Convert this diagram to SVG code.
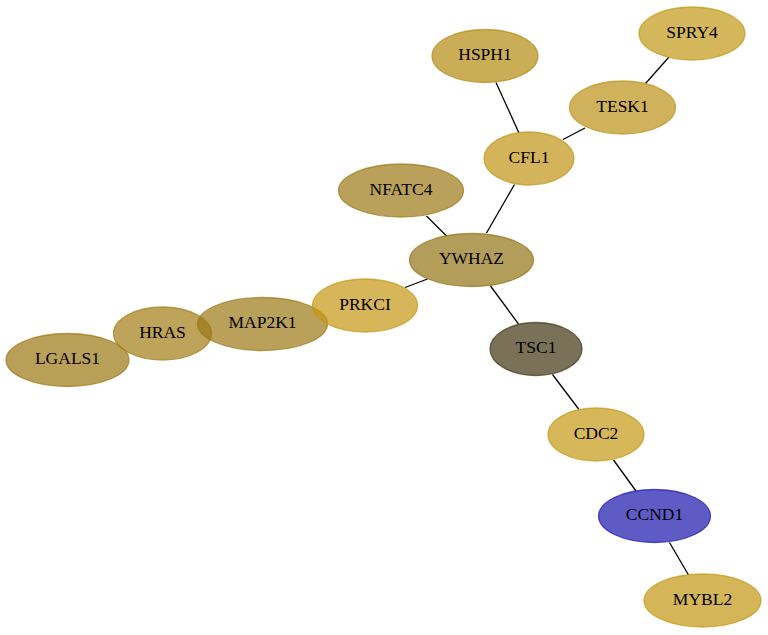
<svg xmlns="http://www.w3.org/2000/svg" width="768" height="635" viewBox="0 0 768 635">
<style>
.edge{stroke:#000;stroke-width:1.3;fill:none}
.node ellipse{fill-opacity:0.7;stroke-opacity:0.7;stroke-width:1.3}
.node text{font-family:"Liberation Serif","Times New Roman",serif;font-size:17.5px;text-anchor:middle;fill:#000}
</style>
<rect width="768" height="635" fill="#fff"/>
<g id="edges">
<line class="edge" x1="496" y1="82.5" x2="519" y2="133"/>
<line class="edge" x1="669" y1="57" x2="645.5" y2="83.5"/>
<line class="edge" x1="585" y1="128" x2="563" y2="139.5"/>
<line class="edge" x1="514.5" y1="184.5" x2="486.5" y2="233"/>
<line class="edge" x1="426.5" y1="216" x2="446.5" y2="236"/>
<line class="edge" x1="427.5" y1="279" x2="405" y2="287.5"/>
<line class="edge" x1="490.5" y1="286" x2="518.5" y2="324"/>
<line class="edge" x1="552.5" y1="374.5" x2="579" y2="409.5"/>
<line class="edge" x1="613.5" y1="460" x2="636" y2="491"/>
<line class="edge" x1="669.5" y1="542.5" x2="688.5" y2="575"/>
</g>
<g id="HSPH1" class="node"><ellipse cx="485" cy="56" rx="53" ry="26.5" fill="#b28a10" stroke="#b28a10"/><text x="485" y="60">HSPH1</text></g>
<g id="SPRY4" class="node"><ellipse cx="692" cy="33.5" rx="53" ry="26.5" fill="#c29716" stroke="#c29716"/><text x="692" y="37.5">SPRY4</text></g>
<g id="TESK1" class="node"><ellipse cx="622.5" cy="107.5" rx="53" ry="26.5" fill="#bb9116" stroke="#bb9116"/><text x="622.5" y="111.5">TESK1</text></g>
<g id="CFL1" class="node"><ellipse cx="529" cy="158.5" rx="45" ry="26.5" fill="#c09416" stroke="#c09416"/><text x="529" y="162.5">CFL1</text></g>
<g id="NFATC4" class="node"><ellipse cx="401" cy="190.5" rx="62.5" ry="26.5" fill="#9b7715" stroke="#9b7715"/><text x="401" y="194.5">NFATC4</text></g>
<g id="YWHAZ" class="node"><ellipse cx="471.5" cy="260" rx="62" ry="26.5" fill="#927316" stroke="#927316"/><text x="471.5" y="264">YWHAZ</text></g>
<g id="LGALS1" class="node"><ellipse cx="67.5" cy="360" rx="61.5" ry="26.5" fill="#9b7713" stroke="#9b7713"/><text x="67.5" y="364">LGALS1</text></g>
<g id="HRAS" class="node"><ellipse cx="162.5" cy="333.5" rx="49" ry="26.5" fill="#a27e16" stroke="#a27e16"/><text x="162.5" y="337.5">HRAS</text></g>
<g id="MAP2K1" class="node"><ellipse cx="262.5" cy="324" rx="65" ry="26.5" fill="#9b7715" stroke="#9b7715"/><text x="262.5" y="328">MAP2K1</text></g>
<g id="PRKCI" class="node"><ellipse cx="365" cy="305.5" rx="52.5" ry="26.5" fill="#c59713" stroke="#c59713"/><text x="365" y="309.5">PRKCI</text></g>
<g id="TSC1" class="node"><ellipse cx="536" cy="349" rx="46" ry="26.5" fill="#413412" stroke="#413412"/><text x="536" y="353">TSC1</text></g>
<g id="CDC2" class="node"><ellipse cx="596" cy="434.5" rx="48" ry="26.5" fill="#c59a16" stroke="#c59a16"/><text x="596" y="438.5">CDC2</text></g>
<g id="CCND1" class="node"><ellipse cx="654.5" cy="516" rx="56" ry="26.5" fill="#1916ab" stroke="#1916ab"/><text x="654.5" y="520">CCND1</text></g>
<g id="MYBL2" class="node"><ellipse cx="702.5" cy="600.5" rx="58.5" ry="26.5" fill="#c29713" stroke="#c29713"/><text x="702.5" y="604.5">MYBL2</text></g>
</svg>
